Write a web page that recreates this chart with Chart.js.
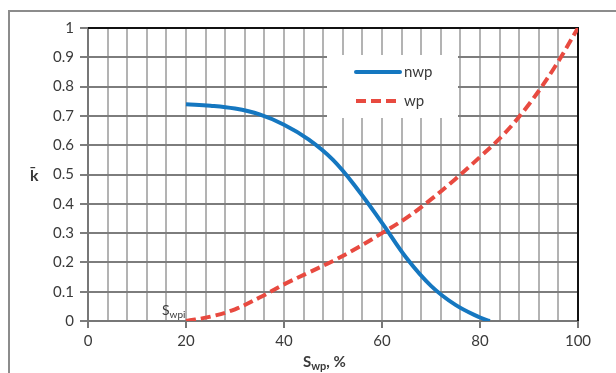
<!DOCTYPE html>
<html>
<head>
<meta charset="utf-8">
<script src="https://cdn.jsdelivr.net/npm/chart.js@4.4.0/dist/chart.umd.min.js"></script>
<style>
  html, body { margin: 0; padding: 0; background: #fff; }
  #wrap { position: relative; width: 616px; height: 373px; overflow: hidden; }
  #frame { position: absolute; left: 8px; top: 10px; width: 700px; height: 400px;
           border-left: 2px solid #8c8c8c; border-top: 2px solid #8c8c8c; }
  canvas { position: absolute; left: 0; top: 0; }
</style>
</head>
<body>
<div id="wrap">
  <div id="frame"></div>
  <canvas id="chart" width="616" height="373"></canvas>
</div>
<script>
// Saturation of the wetting phase, %
const nwpX = [20, 25, 30, 35, 40, 45, 50, 55, 60, 65, 70, 75, 80, 82];
const nwpY = [0.74, 0.735, 0.725, 0.705, 0.67, 0.62, 0.55, 0.45, 0.335, 0.215, 0.12, 0.055, 0.012, 0];

const wpX = [20, 25, 30, 35, 40, 45, 50, 55, 60, 65, 70, 75, 80, 85, 90, 95, 100];
const wpY = [0, 0.015, 0.04, 0.08, 0.125, 0.165, 0.205, 0.25, 0.3, 0.352, 0.415, 0.485, 0.56, 0.64, 0.74, 0.86, 1.0];

const seriesNames = ['nwp', 'wp'];
const blue = '#1577c0';
const red = '#e84a40';
const txt = '#3a3a3a';
const fontFam = 'Lato, "Liberation Sans", sans-serif';

const toPts = (xs, ys) => xs.map((x, i) => ({ x: x, y: ys[i] }));

// legend box, axis titles, Swpi note and the black top/right frame
const extras = {
  id: 'extras',
  beforeDatasetsDraw(chart) {
    const ctx = chart.ctx;
    const a = chart.chartArea;
    ctx.save();
    // top + right border
    ctx.strokeStyle = '#111';
    ctx.lineWidth = 2;
    ctx.beginPath();
    ctx.moveTo(a.left, a.top);
    ctx.lineTo(a.right, a.top);
    ctx.lineTo(a.right, a.bottom);
    ctx.stroke();

    // legend
    const lx = a.left + 239, ly = a.top + 27;
    ctx.fillStyle = '#fff';
    ctx.fillRect(lx, ly, 131, 63);
    ctx.lineWidth = 4;
    ctx.strokeStyle = blue;
    ctx.lineCap = 'round';
    ctx.beginPath();
    ctx.moveTo(lx + 29, ly + 17);
    ctx.lineTo(lx + 73, ly + 17);
    ctx.stroke();
    ctx.strokeStyle = red;
    ctx.lineCap = 'butt';
    ctx.setLineDash([10, 5]);
    ctx.beginPath();
    ctx.moveTo(lx + 29, ly + 46);
    ctx.lineTo(lx + 71, ly + 46);
    ctx.stroke();
    ctx.setLineDash([]);
    ctx.fillStyle = txt;
    ctx.font = '15px ' + fontFam;
    ctx.textBaseline = 'middle';
    ctx.textAlign = 'left';
    ctx.fillText(seriesNames[0], lx + 77, ly + 17);
    ctx.fillText(seriesNames[1], lx + 77, ly + 46);
    ctx.restore();
  },
  afterDraw(chart) {
    const ctx = chart.ctx;
    const x = chart.scales.x, y = chart.scales.y;
    ctx.save();
    ctx.fillStyle = txt;
    ctx.textBaseline = 'alphabetic';
    ctx.textAlign = 'left';

    // y title
    ctx.font = 'bold 16px ' + fontFam;
    ctx.fillText('k\u0304', 30, 181);

    // x title  S_wp, %
    let px = 303, base = 367;
    ctx.font = 'bold 15px ' + fontFam;
    ctx.fillText('S', px, base);
    px += ctx.measureText('S').width;
    ctx.font = 'bold 11px ' + fontFam;
    ctx.fillText('wp', px, base + 3);
    px += ctx.measureText('wp').width;
    ctx.font = 'bold 15px ' + fontFam;
    ctx.fillText(', %', px, base);

    // Swpi note at start of wp curve
    ctx.font = '14px ' + fontFam;
    let sx = x.getPixelForValue(wpX[0]) - 24, sy = y.getPixelForValue(0) - 6;
    ctx.fillText('S', sx, sy);
    sx += ctx.measureText('S').width;
    ctx.font = '10px ' + fontFam;
    ctx.fillText('wpi', sx, sy + 3);
    ctx.restore();
  }
};

new Chart(document.getElementById('chart'), {
  type: 'line',
  data: {
    datasets: [
      {
        label: seriesNames[0],
        data: toPts(nwpX, nwpY),
        borderColor: blue,
        borderWidth: 4,
        tension: 0.4,
        pointRadius: 0,
        fill: false
      },
      {
        label: seriesNames[1],
        data: toPts(wpX, wpY),
        borderColor: red,
        borderWidth: 4,
        borderDash: [10, 5],
        tension: 0.4,
        pointRadius: 0,
        fill: false
      }
    ]
  },
  options: {
    responsive: false,
    animation: false,
    layout: { padding: { left: 0, top: 28, right: 38, bottom: 0 } },
    plugins: { legend: { display: false }, tooltip: { enabled: false } },
    scales: {
      x: {
        type: 'linear',
        min: 0,
        max: 100,
        afterFit: s => { s.height = 52; },
        ticks: {
          stepSize: 4,
          autoSkip: false,
          maxRotation: 0,
          padding: 4,
          color: txt,
          font: { family: fontFam, size: 15 },
          callback: v => (v % 20 === 0 ? v : '')
        },
        grid: {
          color: '#b3b3b3',
          lineWidth: 2,
          tickLength: 7,
          tickColor: c => (c.tick && c.tick.value % 20 === 0 ? '#777' : 'rgba(0,0,0,0)')
        },
        border: { color: '#777', width: 2 }
      },
      y: {
        min: 0,
        max: 1,
        afterFit: s => { s.width = 88; },
        ticks: {
          stepSize: 0.1,
          padding: 6,
          color: txt,
          font: { family: fontFam, size: 15 },
          callback: v => Math.round(v * 10) / 10
        },
        grid: {
          color: '#7d7d7d',
          lineWidth: 2,
          tickLength: 8,
          tickColor: '#7d7d7d'
        },
        border: { color: '#777', width: 2 }
      }
    }
  },
  plugins: [extras]
});
</script>
</body>
</html>
